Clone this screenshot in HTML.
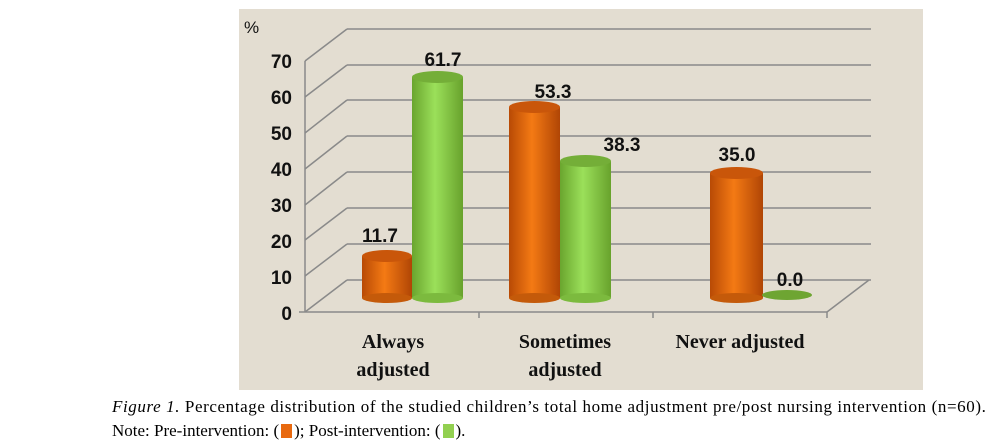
<!DOCTYPE html>
<html><head><meta charset="utf-8"><style>
html,body{margin:0;padding:0;background:#fff;width:989px;height:448px;overflow:hidden}
svg{position:absolute;left:0;top:0}
.cap{position:absolute;left:112px;font-family:"Liberation Serif",serif;font-size:17px;color:#000;white-space:nowrap}
</style></head><body>
<svg width="989" height="448" xmlns="http://www.w3.org/2000/svg">
<defs>
<linearGradient id="og" x1="0" x2="1"><stop offset="0" stop-color="#b84a05"/><stop offset="0.45" stop-color="#f47a14"/><stop offset="1" stop-color="#b04505"/></linearGradient>
<linearGradient id="gg" x1="0" x2="1"><stop offset="0" stop-color="#6aa52e"/><stop offset="0.45" stop-color="#9be05a"/><stop offset="1" stop-color="#68a22c"/></linearGradient>
</defs>
<rect x="239" y="9" width="684" height="381" fill="#e3ddd1"/>
<g stroke="#8a8a8a" stroke-width="1.5" fill="none">
<line x1="347" y1="29" x2="871" y2="29"/><line x1="347" y1="65" x2="871" y2="65"/>
<line x1="347" y1="100" x2="871" y2="100"/><line x1="347" y1="136" x2="871" y2="136"/>
<line x1="347" y1="172" x2="871" y2="172"/><line x1="347" y1="208" x2="871" y2="208"/>
<line x1="347" y1="244" x2="871" y2="244"/><line x1="347" y1="280" x2="871" y2="280"/>
<polyline points="305,61 347,29"/><polyline points="305,97 347,65"/><polyline points="305,133 347,100"/>
<polyline points="305,169 347,136"/><polyline points="305,205 347,172"/><polyline points="305,240 347,208"/>
<polyline points="305,276 347,244"/><polyline points="305,312 347,280 "/>
<line x1="305" y1="61" x2="305" y2="312"/>
<line x1="305" y1="312" x2="827" y2="312"/><line x1="827" y1="312" x2="869" y2="280"/>
<line x1="479" y1="312" x2="479" y2="318"/><line x1="653" y1="312" x2="653" y2="318"/><line x1="827" y1="312" x2="827" y2="318"/>
<line x1="299" y1="312" x2="305" y2="312"/>
</g>
<g font-family="Liberation Sans,sans-serif" font-weight="bold" font-size="19" fill="#111" text-anchor="end">
<text x="292" y="68">70</text><text x="292" y="104">60</text><text x="292" y="140">50</text>
<text x="292" y="176">40</text><text x="292" y="212">30</text><text x="292" y="248">20</text>
<text x="292" y="284">10</text><text x="292" y="320">0</text>
</g>
<text x="244" y="33" font-family="Liberation Sans,sans-serif" font-size="17" fill="#111">%</text>
<g>
<rect x="362" y="256" width="50" height="42" fill="url(#og)"/><ellipse cx="387" cy="298" rx="25" ry="5" fill="#c45a0a"/><ellipse cx="387" cy="256" rx="25" ry="6" fill="#c9560a"/>
<rect x="412" y="77" width="51" height="221" fill="url(#gg)"/><ellipse cx="437.5" cy="298" rx="25.5" ry="5" fill="#7cba3e"/><ellipse cx="437.5" cy="77" rx="25.5" ry="6" fill="#74ae38"/>
<rect x="509" y="107" width="51" height="191" fill="url(#og)"/><ellipse cx="534.5" cy="298" rx="25.5" ry="5" fill="#c45a0a"/><ellipse cx="534.5" cy="107" rx="25.5" ry="6" fill="#c9560a"/>
<rect x="560" y="161" width="51" height="137" fill="url(#gg)"/><ellipse cx="585.5" cy="298" rx="25.5" ry="5" fill="#7cba3e"/><ellipse cx="585.5" cy="161" rx="25.5" ry="6" fill="#74ae38"/>
<rect x="710" y="173" width="53" height="125" fill="url(#og)"/><ellipse cx="736.5" cy="298" rx="26.5" ry="5" fill="#c45a0a"/><ellipse cx="736.5" cy="173" rx="26.5" ry="6" fill="#c9560a"/>
<ellipse cx="787" cy="295" rx="25" ry="5" fill="#6ea532"/>
</g>
<g font-family="Liberation Sans,sans-serif" font-weight="bold" font-size="19" fill="#111" text-anchor="middle">
<text x="380" y="242">11.7</text><text x="443" y="66">61.7</text>
<text x="553" y="98">53.3</text><text x="622" y="151">38.3</text>
<text x="737" y="161">35.0</text><text x="790" y="286">0.0</text>
</g>
<g font-family="Liberation Serif,serif" font-weight="bold" font-size="20" fill="#111" text-anchor="middle">
<text x="393" y="348">Always</text><text x="393" y="376">adjusted</text>
<text x="565" y="348">Sometimes</text><text x="565" y="376">adjusted</text>
<text x="740" y="348">Never adjusted</text>
</g>
</svg>
<div class="cap" style="left:112px;top:397px;letter-spacing:0.6px"><i>Figure 1.</i> Percentage distribution of the studied children’s total home adjustment pre/post nursing intervention (n=60).</div>
<div class="cap" style="left:112px;top:421px">Note: Pre-intervention: (<span style="display:inline-block;width:11px;height:14px;background:#e8690f;vertical-align:-2px;margin:0 2px"></span>); Post-intervention: (<span style="display:inline-block;width:11px;height:14px;background:#92d050;vertical-align:-2px;margin:0 2px"></span>).</div>
</body></html>
